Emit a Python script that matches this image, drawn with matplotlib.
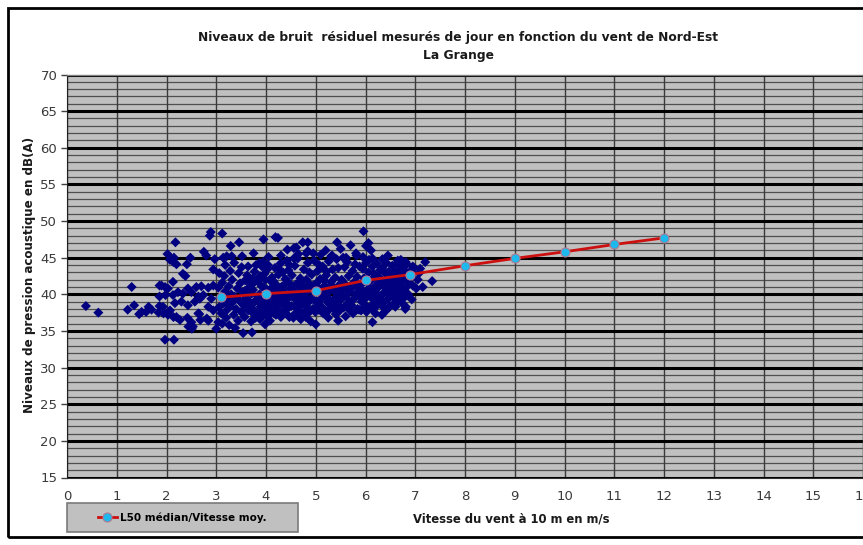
import matplotlib
matplotlib.use("Agg")
import matplotlib.pyplot as plt
from matplotlib.patches import Rectangle
from matplotlib.lines import Line2D

# Residual noise measurements (wind speed at 10 m, level in dB(A))
wind_speed = [
    0.38, 0.63, 1.22, 1.30, 1.35, 1.45, 1.50, 1.59, 1.64, 1.70, 1.84, 1.86, 1.86, 1.86,
    1.90, 1.97, 2.03, 1.98, 2.13, 2.23, 2.33, 2.50, 2.43, 2.60, 2.70, 2.84, 2.64, 2.74,
    2.90, 1.93, 2.07, 2.17, 2.30, 2.43, 2.57, 2.67, 2.03, 2.20, 2.42, 2.66, 2.84, 2.50,
    2.53, 2.84, 1.97, 2.15, 2.18, 2.02, 2.10, 2.15, 2.75, 2.80, 2.48, 2.20, 2.41, 2.33,
    2.38, 2.13, 2.87, 2.89, 2.07, 2.14, 1.94, 2.04, 2.14, 2.27, 2.44, 2.51, 2.64, 2.68,
    2.81,
    2.94, 2.97, 3.14, 3.21, 3.31, 3.52, 3.16, 3.46, 3.29, 3.12, 2.94, 3.04, 3.24, 3.34,
    3.51, 2.94, 3.04, 3.00, 3.54, 3.72, 3.51, 3.64, 3.58, 3.68,
    3.05, 3.08, 3.10, 3.12, 3.15, 3.18, 3.20, 3.22, 3.25, 3.27, 3.30, 3.32, 3.35, 3.37,
    3.40, 3.42, 3.44, 3.46, 3.48, 3.50, 3.53, 3.55, 3.57, 3.60, 3.62, 3.64, 3.66, 3.68,
    3.70, 3.71, 3.74, 3.76, 3.78, 3.12, 3.26, 3.38, 3.45, 3.28, 3.06, 3.18, 3.36,
    3.95, 4.19, 4.24, 4.61, 4.56, 4.43, 4.74, 4.84, 4.84, 4.81, 4.56, 3.87, 3.92, 4.04,
    4.27, 4.47, 3.95, 4.10, 4.20, 4.40, 4.66, 4.86, 5.06, 5.22, 5.38, 3.98, 4.08, 3.88,
    4.30, 4.55,
    3.72, 3.74, 3.77, 3.79, 3.81, 3.83, 3.85, 3.87, 3.88, 3.90, 3.80, 3.73, 3.86, 3.76,
    3.91, 3.93, 3.95, 3.97, 3.99, 4.01, 4.03, 4.04, 4.06, 4.08, 4.09, 3.94, 4.02, 4.07, 3.98,
    4.11, 4.12, 4.14, 4.16, 4.18, 4.19, 4.21, 4.23, 4.25, 4.26, 4.28, 4.29, 4.15, 4.22, 4.27,
    4.31, 4.32, 4.34, 4.36, 4.37, 4.39, 4.41, 4.42, 4.44, 4.46, 4.47, 4.49, 4.33, 4.40, 4.45,
    4.51, 4.52, 4.54, 4.56, 4.58, 4.59, 4.61, 4.63, 4.64, 4.66, 4.68, 4.69, 4.55, 4.62, 4.67,
    4.71, 4.72, 4.74, 4.76, 4.77, 4.79, 4.81, 4.83, 4.84, 4.86, 4.88, 4.89, 4.73, 4.80, 4.87,
    4.91, 4.92, 4.94, 4.96, 4.97, 4.99, 5.01, 5.03, 5.04, 5.06, 5.08, 5.09, 4.95, 5.02, 5.07,
    5.11, 5.12, 5.14, 5.16, 5.17, 5.19, 5.21, 5.23, 5.24, 5.26, 5.28, 5.29, 5.15, 5.22, 5.27,
    5.31, 5.32, 5.34, 5.36, 5.37, 5.39, 5.41, 5.42, 5.44, 5.46, 5.47, 5.49, 5.33, 5.40, 5.45,
    5.51, 5.52, 5.54, 5.56, 5.58, 5.59, 5.61, 5.63, 5.64, 5.66, 5.68, 5.69, 5.55, 5.62, 5.67,
    5.71, 5.72, 5.74, 5.76, 5.77, 5.79, 5.81, 5.83, 5.84, 5.86, 5.88, 5.89, 5.75, 5.82, 5.87,
    5.91, 5.92, 5.94, 5.96, 5.97, 5.99, 6.01, 6.03, 6.04, 6.06, 6.08, 6.09, 5.95, 6.02, 6.07,
    6.11, 6.12, 6.14, 6.16, 6.17, 6.19, 6.21, 6.23, 6.24, 6.26, 6.28, 6.29, 6.15, 6.22, 6.27,
    6.31, 6.32, 6.34, 6.36, 6.37, 6.39, 6.41, 6.42, 6.44, 6.46, 6.47, 6.49, 6.35, 6.43,
    6.51, 6.52, 6.54, 6.56, 6.57, 6.59, 6.61, 6.63, 6.64, 6.66, 6.68, 6.69, 6.55,
    6.71, 6.72, 6.74, 6.76, 6.77, 6.79, 6.81, 6.83, 6.84, 6.86, 6.88, 6.89, 6.75,
    6.92, 6.95, 6.98, 7.02, 7.08, 7.15, 7.20, 7.34, 6.95, 6.93, 7.05, 7.10,
    5.43, 5.70, 5.31, 5.61, 5.96, 6.06, 6.01, 6.11, 5.81, 6.34, 6.14, 6.65, 6.71, 6.81,
    5.10, 5.20, 4.95, 5.50, 4.30, 4.05, 3.75, 4.65, 6.45,
    6.34, 6.14, 5.92, 6.33, 6.60, 6.20, 5.60, 5.25, 6.80, 5.45, 4.90, 4.70, 5.00,
    6.81, 6.48, 6.14, 5.91,
    3.58, 3.63, 3.69, 3.84, 3.89, 3.96, 4.05, 4.13, 4.17, 4.24, 4.35, 4.38, 4.43, 4.50,
    4.57, 4.60, 4.70, 4.75, 4.82, 4.85, 4.93, 4.98, 5.05, 5.13, 5.18, 5.25, 5.30, 5.35,
    5.38, 5.48, 5.53, 5.57, 5.65, 5.73, 5.78, 5.85, 5.93, 5.98, 6.05, 6.13, 6.18, 6.25,
    6.33, 6.38, 6.45, 6.53, 6.58, 6.62, 6.73, 6.78,
]
noise_level = [
    38.4, 37.5, 37.9, 41.0, 38.5, 37.3, 37.6, 37.6, 38.3, 37.9, 37.5, 38.4, 41.2, 39.7,
    41.2, 41.0, 40.8, 39.9, 39.9, 40.3, 40.1, 40.3, 40.8, 41.0, 41.1, 40.9, 39.7, 39.9,
    39.4, 38.3, 37.8, 38.8, 39.0, 38.5, 39.0, 39.4, 37.2, 36.9, 36.8, 37.3, 38.3, 36.2,
    35.6, 36.4, 33.8, 33.8, 47.1, 45.5, 44.8, 45.0, 45.8, 45.3, 45.0, 44.1, 44.1, 42.8,
    42.5, 41.7, 48.0, 48.5, 44.7, 44.4, 37.4, 37.6, 36.9, 36.5, 35.6, 35.3, 37.4, 36.5,
    36.7,
    43.4, 44.8, 45.0, 45.2, 45.2, 45.2, 42.5, 47.1, 46.6, 48.3, 41.2, 40.9, 39.4, 39.0,
    38.8, 37.8, 36.2, 35.3, 34.7, 34.8, 43.7, 43.8, 41.9, 41.7,
    38.2, 39.6, 37.4, 41.6, 38.8, 40.4, 36.8, 37.9, 41.1, 38.4, 40.0, 42.0, 37.2, 39.7,
    38.0, 40.8, 36.4, 39.2, 41.5, 37.6, 40.3, 38.5, 36.9, 39.5, 42.6, 37.8, 40.9, 38.9,
    36.3, 40.1, 42.2, 37.3, 39.0, 36.0, 35.8, 35.4, 42.9, 43.2, 42.9, 44.0, 44.3,
    47.5, 47.8, 47.7, 46.4, 46.3, 46.1, 47.1, 47.1, 45.9, 45.6, 44.9, 44.3, 43.8, 44.0,
    43.4, 44.0, 37.4, 37.6, 37.2, 37.4, 37.3, 37.5, 37.9, 37.6, 37.9, 35.9, 36.4, 36.6,
    36.9, 36.8,
    38.1, 40.6, 43.1, 36.8, 39.3, 41.8, 37.7, 40.0, 42.5, 38.6, 44.0, 41.4, 39.0, 37.3,
    41.1, 37.2, 39.5, 42.8, 38.3, 40.7, 36.9, 43.5, 39.1, 41.9, 37.8, 44.4, 38.8, 40.2, 42.0,
    38.5, 42.3, 40.1, 37.4, 43.6, 39.4, 41.3, 38.0, 42.7, 40.6, 37.1, 44.2, 41.8, 39.9, 39.0,
    41.0, 38.7, 43.0, 37.6, 40.3, 42.1, 39.2, 44.6, 38.1, 41.6, 36.9, 40.8, 39.6, 37.9, 43.3,
    38.4, 42.6, 40.0, 37.2, 43.9, 39.3, 41.4, 38.0, 44.9, 40.7, 37.7, 42.2, 41.1, 39.8, 38.9,
    41.8, 38.6, 40.4, 43.4, 37.5, 39.6, 42.0, 38.2, 44.3, 40.9, 37.9, 41.3, 39.1, 36.9, 43.0,
    39.4, 42.7, 38.0, 40.8, 44.6, 37.6, 41.5, 39.0, 43.2, 38.4, 40.2, 42.1, 41.2, 37.9, 44.0,
    40.6, 38.3, 43.8, 39.7, 41.9, 37.8, 42.6, 40.1, 38.9, 44.5, 41.0, 39.2, 37.4, 43.1, 37.9,
    41.7, 39.0, 43.4, 38.1, 40.5, 42.3, 39.6, 44.8, 38.6, 41.2, 37.7, 40.0, 45.3, 37.3, 43.6,
    39.3, 42.0, 40.7, 38.2, 43.7, 41.4, 39.8, 44.4, 38.7, 42.5, 40.3, 37.8, 45.0, 41.0, 39.0,
    40.8, 38.5, 43.2, 41.6, 39.4, 44.1, 40.1, 42.4, 38.0, 41.0, 43.8, 39.7, 37.4, 45.3, 37.9,
    41.3, 39.0, 43.5, 40.4, 42.2, 38.6, 44.3, 41.7, 39.8, 43.0, 40.9, 38.3, 45.1, 37.6, 44.7,
    41.9, 39.5, 43.8, 40.6, 42.8, 38.8, 41.2, 44.2, 40.0, 42.4, 39.2, 43.3, 37.9, 38.4, 41.6,
    42.0, 39.9, 43.6, 41.1, 38.9, 42.9, 40.4, 44.3, 41.7, 39.4, 43.1, 40.8, 38.3, 37.9,
    42.4, 40.2, 43.9, 41.5, 39.6, 43.0, 40.9, 44.2, 42.0, 39.0, 43.5, 41.2, 38.6,
    42.7, 40.5, 43.8, 41.9, 39.5, 43.2, 40.9, 44.1, 42.3, 40.0, 43.0, 41.5, 38.7,
    42.6, 41.2, 43.6, 40.8, 42.9, 41.0, 44.4, 41.8, 43.8, 39.3, 42.0, 43.5,
    47.1, 46.7, 45.2, 45.0, 48.6, 47.0, 46.6, 46.0, 45.6, 44.8, 44.9, 44.6, 44.7, 44.4,
    45.4, 46.0, 45.6, 46.2, 45.3, 45.1, 45.6, 45.5, 45.3,
    37.3, 36.2, 37.9, 37.2, 38.3, 37.4, 37.0, 36.8, 38.0, 36.4, 36.3, 36.6, 35.9,
    38.3, 38.3, 38.3, 37.8,
    40.5, 38.6, 41.3, 39.7, 38.3, 40.9, 39.6, 41.0, 38.8, 40.8, 39.9, 41.4, 38.6, 39.8,
    40.4, 38.5, 39.4, 41.1, 40.3, 38.9, 40.5, 39.1, 40.9, 39.5, 41.2, 40.4, 38.6, 41.0,
    39.4, 40.9, 39.7, 41.2, 40.1, 39.1, 41.3, 39.9, 40.2, 39.3, 40.5, 40.3, 39.6, 40.9,
    39.1, 40.2, 41.9, 40.5, 42.2, 40.1, 39.8, 40.6,
]

# Median L50 per wind speed class
wind_l50 = [3.1, 4.0, 5.0, 6.0, 6.9, 8.0, 9.0, 10.0, 11.0, 12.0]
level_l50 = [39.6, 40.1, 40.5, 41.9, 42.7, 43.9, 44.9, 45.8, 46.8, 47.7]

x_ticks = list(range(0, 17))
y_major = list(range(15, 71, 5))
y_minor = [v for v in range(16, 70) if v % 5 != 0]

W, H = 863, 545
fig = plt.figure(figsize=(W / 100, H / 100), dpi=100)
fig.patch.set_facecolor("white")

ax = fig.add_axes([67 / W, 67.5 / H, 796 / W, 403 / H])
ax.set_facecolor("#c0c0c0")
ax.set_xlim(0, 16)
ax.set_ylim(15, 70)
ax.set_axisbelow(True)

ax.set_xticks(x_ticks)
ax.set_yticks(y_major)

# Grid: thin lines every dB, heavy black lines every 5 dB, vertical line per m/s
ax.hlines(y_minor, 0, 16, colors="#4f4f4f", lw=0.9, zorder=0.5)
ax.grid(which="major", axis="y", color="black", lw=2.2)
ax.grid(which="major", axis="x", color="#3a3a3a", lw=1.0)

ax.tick_params(axis="y", which="major", direction="out", length=4, width=1,
               color="#404040", labelsize=9.5, labelcolor="#3a3a3a", pad=3)
ax.tick_params(axis="x", which="major", direction="out", length=0,
               labelsize=9.5, labelcolor="#3a3a3a", pad=9)

for side in ("top", "right"):
    ax.spines[side].set_color("#808080")
    ax.spines[side].set_linewidth(1)
ax.spines["left"].set_color("#202020")
ax.spines["bottom"].set_color("#303030")

ax.scatter(wind_speed, noise_level, marker="D", s=26, color="#000080",
           edgecolors="none", zorder=3)
ax.plot(wind_l50, level_l50, color="#cc1010", lw=2.0, marker="o",
        markersize=6.5, markerfacecolor="#1fb8ec",
        markeredgecolor="#b07890", markeredgewidth=0.8, zorder=4)

fig.text(458 / W, 1 - 37 / H,
         "Niveaux de bruit  résiduel mesurés de jour en fonction du vent de Nord-Est",
         ha="center", va="center", fontsize=8.8, fontweight="bold", color="#1a1a1a")
fig.text(458 / W, 1 - 55 / H, "La Grange", ha="center", va="center",
         fontsize=8.8, fontweight="bold", color="#1a1a1a")
fig.text(30 / W, 1 - 275 / H, "Niveaux de pression acoustique en dB(A)",
         rotation=90, ha="center", va="center", fontsize=8.6, fontweight="bold",
         color="#1a1a1a")
fig.text(511 / W, 1 - 519 / H, "Vitesse du vent à 10 m en m/s", ha="center",
         va="center", fontsize=8.4, fontweight="bold", color="#1a1a1a")

# Outer chart frame
fig.add_artist(Rectangle((8 / W, 8 / H), 870 / W, 529 / H, transform=fig.transFigure,
                         fill=False, ec="black", lw=2, clip_on=False))

# Legend box
fig.add_artist(Rectangle((67 / W, 13 / H), 231 / W, 29 / H, transform=fig.transFigure,
                         fc="#c0c0c0", ec="#7a7a7a", lw=1.2))
handle = Line2D([], [], color="#cc1010", lw=2.0, marker="o", markersize=6.5,
                markerfacecolor="#1fb8ec", markeredgecolor="#b07890",
                markeredgewidth=0.8)
fig.legend([handle], ["L50 médian/Vitesse moy."], loc="center",
           bbox_to_anchor=(182 / W, 1 - 517.5 / H), frameon=False,
           handlelength=1.8, handletextpad=0.3,
           prop={"size": 7.5, "weight": "bold"})

fig.savefig("out.png", dpi=100)
